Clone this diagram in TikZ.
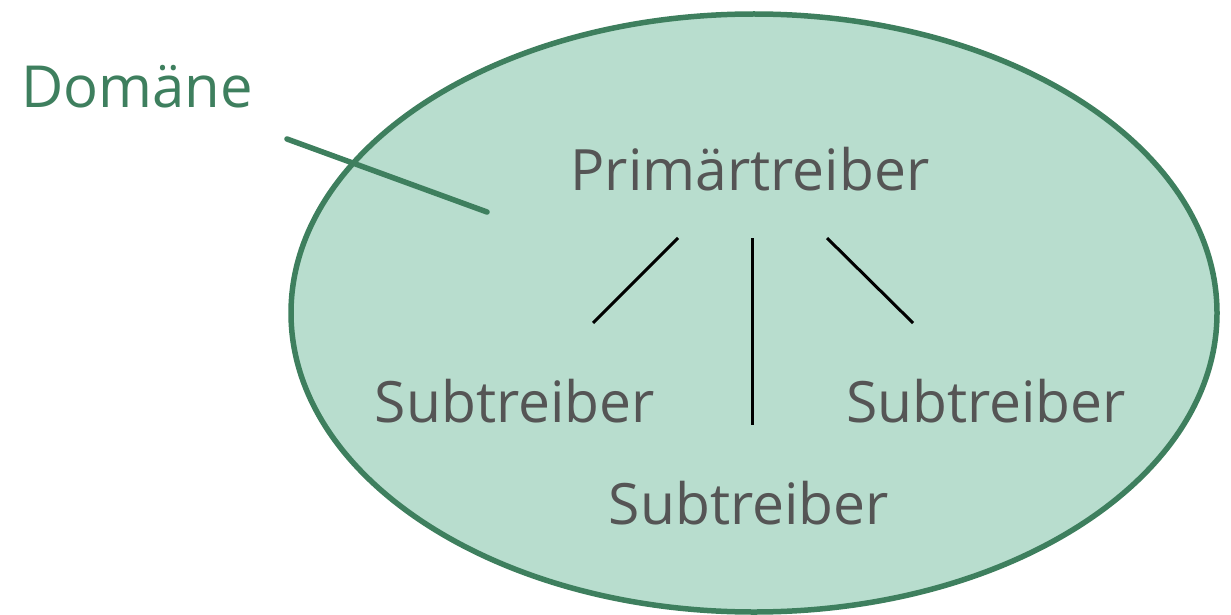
\documentclass[tikz,border=0pt]{standalone}
\usepackage{fontspec}
\setmainfont{Open Sans}
\definecolor{dgreen}{HTML}{3E7F5E}
\definecolor{lgreen}{HTML}{B8DDCE}
\definecolor{tgray}{HTML}{555555}
\begin{document}
\begin{tikzpicture}[x=1pt,y=-1pt,
  lbl/.style={font=\fontsize{57}{68}\selectfont, text=tgray, anchor=base, inner sep=0pt},
  dom/.style={font=\fontsize{58}{70}\selectfont, text=dgreen, anchor=base west, inner sep=0pt},
  tie/.style={draw=black, line width=3pt},
  gline/.style={draw=dgreen, line width=5.5pt, line cap=round}]
\useasboundingbox (0,0) rectangle (1231,615);
\draw[dgreen, fill=lgreen, line width=5.5pt] (754,313) ellipse [x radius=463, y radius=299];
\node[dom] (dom) at (21,108) {Domäne};
\node[lbl] (P) at (750,190) {Primärtreiber};
\node[lbl] (S1) at (515,422) {Subtreiber};
\node[lbl] (S2) at (986,422) {Subtreiber};
\node[lbl] (S3) at (749,524) {Subtreiber};
\coordinate (g1) at (287,139);
\coordinate (g2) at (487,212);
\draw[gline] (g1) -- (g2);
\coordinate (a1) at (678,238); \coordinate (a2) at (593,323);
\coordinate (b1) at (752,238); \coordinate (b2) at (752,425);
\coordinate (c1) at (827,238); \coordinate (c2) at (913,323);
\draw[tie] (a1) -- (a2);
\draw[tie] (b1) -- (b2);
\draw[tie] (c1) -- (c2);
\end{tikzpicture}
\end{document}
